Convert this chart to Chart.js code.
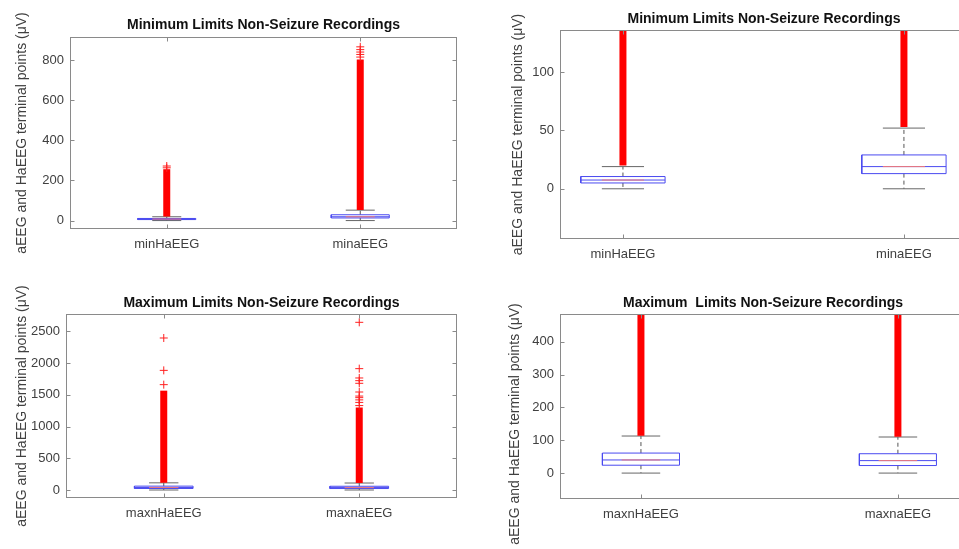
<!DOCTYPE html>
<html lang="en">
<head>
<meta charset="UTF-8">
<title>Limits Non-Seizure Recordings</title>
<script src="https://cdn.jsdelivr.net/npm/chart.js"></script>
<style>
  body { margin: 0; width: 959px; height: 549px; overflow: hidden; background: #fff; position: relative; }
  canvas { position: absolute; }
</style>
</head>
<body>
<canvas id="c1" width="480" height="275" style="left:0;top:0"></canvas>
<canvas id="c2" width="500" height="275" style="left:480px;top:0"></canvas>
<canvas id="c3" width="480" height="274" style="left:0;top:275px"></canvas>
<canvas id="c4" width="500" height="274" style="left:480px;top:275px"></canvas>
<script>
// ---- data ----
const yLabel = 'aEEG and HaEEG terminal points (μV)';

const minLabels = ['minHaEEG', 'minaEEG'];
const minQ1 = [5, 13];
const minMedian = [7.5, 19];
const minQ3 = [10.5, 29];
const minWhiskerLow = [0, 0];
const minWhiskerHigh = [19, 52];
const minBandLow = [20, 53];        // dense run of outliers (drawn as solid column)
const minBandHigh = [256, 803];
const minOutliers = [[263, 272], [815, 828, 840, 852, 866]];

const maxLabels = ['maxnHaEEG', 'maxnaEEG'];
const maxQ1 = [24, 23];
const maxMedian = [40, 38];
const maxQ3 = [61, 59];
const maxWhiskerLow = [0, 0];
const maxWhiskerHigh = [113, 110];
const maxBandLow = [114, 111];
const maxBandHigh = [1565, 1300];
const maxOutliers = [[1660, 1885, 2395], [1330, 1380, 1420, 1455, 1480, 1544, 1681, 1723, 1765, 1912, 2642]];

const yTicksMinFull = [0, 200, 400, 600, 800];
const yTicksMinZoom = [0, 50, 100];
const yTicksMaxFull = [0, 500, 1000, 1500, 2000, 2500];
const yTicksMaxZoom = [0, 100, 200, 300, 400];

// ---- styling ----
const FONT = 'Liberation Sans, Arial, Helvetica, sans-serif';
const TEXT = '#404040';
const AXIS = '#8a8a8a';
const BOX_W = 0.15;   // half width of box
const CAP_W = 0.075;  // half width of whisker cap

const minStats = { labels: minLabels, q1: minQ1, med: minMedian, q3: minQ3, lo: minWhiskerLow, hi: minWhiskerHigh, bandLo: minBandLow, bandHi: minBandHigh, out: minOutliers };
const maxStats = { labels: maxLabels, q1: maxQ1, med: maxMedian, q3: maxQ3, lo: maxWhiskerLow, hi: maxWhiskerHigh, bandLo: maxBandLow, bandHi: maxBandHigh, out: maxOutliers };

function boxDatasets(s) {
  const out = [];
  const line = (pts, color, width, dash) => out.push({
    data: pts, showLine: true, borderColor: color, borderWidth: width,
    borderDash: dash || [], pointRadius: 0, borderCapStyle: 'butt', clip: 0
  });
  s.labels.forEach((_, i) => {
    const x = i + 1;
    line([{ x, y: s.q3[i] }, { x, y: s.hi[i] }], '#555', 1, [4, 3]);
    line([{ x, y: s.q1[i] }, { x, y: s.lo[i] }], '#555', 1, [4, 3]);
    line([{ x: x - CAP_W, y: s.hi[i] }, { x: x + CAP_W, y: s.hi[i] }], '#666', 1);
    line([{ x: x - CAP_W, y: s.lo[i] }, { x: x + CAP_W, y: s.lo[i] }], '#666', 1);
    line([
      { x: x - BOX_W, y: s.q1[i] }, { x: x + BOX_W, y: s.q1[i] },
      { x: x + BOX_W, y: s.q3[i] }, { x: x - BOX_W, y: s.q3[i] }, { x: x - BOX_W, y: s.q1[i] }
    ], '#4a4af0', 1);
    line([{ x: x - BOX_W, y: s.med[i] }, { x: x + BOX_W, y: s.med[i] }], '#4a4af0', 1);
    line([{ x: x - CAP_W, y: s.med[i] }, { x: x + CAP_W, y: s.med[i] }], '#f07a7a', 1);
    line([{ x, y: s.bandLo[i] }, { x, y: s.bandHi[i] }], '#ff0000', 7);
    out.push({
      data: s.out[i].map(v => ({ x, y: v })), showLine: false,
      pointStyle: 'cross', pointRadius: 4, borderColor: '#ff2020', pointBorderWidth: 1, clip: 0
    });
  });
  return out.reverse();
}

const framePlugin = {
  id: 'frame',
  afterDraw(chart, args, opts) {
    const { ctx, chartArea: a, scales: { x, y } } = chart;
    const L = Math.round(a.left) + 0.5, R = Math.round(a.right) - 0.5;
    const T = Math.round(a.top) + 0.5, B = Math.round(a.bottom) - 0.5;
    ctx.save();
    ctx.strokeStyle = AXIS;
    ctx.lineWidth = 1;
    ctx.strokeRect(L, T, R - L, B - T);
    ctx.beginPath();
    y.ticks.forEach(t => {
      const py = Math.round(y.getPixelForValue(t.value)) + 0.5;
      ctx.moveTo(L, py); ctx.lineTo(L + 4, py);
      ctx.moveTo(R, py); ctx.lineTo(R - 4, py);
    });
    x.ticks.forEach(t => {
      const px = Math.round(x.getPixelForValue(t.value)) + 0.5;
      ctx.moveTo(px, B); ctx.lineTo(px, B - 4);
      ctx.moveTo(px, T); ctx.lineTo(px, T + 4);
    });
    ctx.stroke();
    if (opts.yTitleAt) {
      ctx.translate(opts.yTitleAt[0], opts.yTitleAt[1]);
      ctx.rotate(-Math.PI / 2);
      ctx.fillStyle = TEXT;
      ctx.font = '14px ' + FONT;
      ctx.textAlign = 'center';
      ctx.textBaseline = 'middle';
      ctx.fillText(yLabel, 0, 0);
    }
    ctx.restore();
  }
};

function makePanel(id, p) {
  const canvas = document.getElementById(id);
  new Chart(canvas, {
    type: 'scatter',
    data: { datasets: boxDatasets(p.stats) },
    plugins: [framePlugin],
    options: {
      responsive: false,
      animation: false,
      events: [],
      layout: { padding: { left: 0, top: 0, bottom: 0, right: canvas.width - p.area.r } },
      plugins: {
        legend: { display: false },
        tooltip: { enabled: false },
        title: {
          display: true, text: p.title, color: '#111', fullSize: false,
          font: { family: FONT, size: 14, weight: 'bold', lineHeight: '20px' },
          padding: { top: p.titleTop, bottom: p.area.t - p.titleTop - 20 }
        },
        frame: { yTitleAt: p.yTitleAt || null }
      },
      scales: {
        x: {
          type: 'linear', min: p.xRange[0], max: p.xRange[1],
          grid: { display: false, drawTicks: false }, border: { display: false },
          afterBuildTicks: s => { s.ticks = p.stats.labels.map((_, i) => ({ value: i + 1 })); },
          afterFit: s => { s.height = canvas.height - p.area.b; },
          ticks: {
            padding: 8, color: TEXT, font: { family: FONT, size: 13 }, maxRotation: 0,
            callback: v => p.stats.labels[v - 1]
          }
        },
        y: {
          type: 'linear', min: p.yRange[0], max: p.yRange[1],
          grid: { display: false, drawTicks: false }, border: { display: false },
          afterBuildTicks: s => { s.ticks = p.yTicks.map(v => ({ value: v })); },
          afterFit: s => { s.width = p.area.l; },
          ticks: { padding: 6, color: TEXT, font: { family: FONT, size: 13 }, callback: v => String(v) },
          title: {
            display: !p.yTitleAt, text: yLabel, color: TEXT,
            font: { family: FONT, size: 14, lineHeight: '16px' },
            padding: { top: p.yTitleX - 8, bottom: 0 }
          }
        }
      }
    }
  });
}

makePanel('c1', {
  stats: minStats, title: 'Minimum Limits Non-Seizure Recordings', yTicks: yTicksMinFull,
  area: { l: 70, r: 457, t: 37, b: 229 }, titleTop: 15,
  yRange: [-42, 915], xRange: [0.5, 2.5], yTitleX: 22
});
makePanel('c2', {
  stats: minStats, title: 'Minimum Limits Non-Seizure Recordings', yTicks: yTicksMinZoom,
  area: { l: 80, r: 488, t: 30, b: 239 }, titleTop: 9,
  yRange: [-43, 136], xRange: [0.776, 2.228], yTitleX: 38
});
makePanel('c3', {
  stats: maxStats, title: 'Maximum Limits Non-Seizure Recordings', yTicks: yTicksMaxFull,
  area: { l: 66, r: 457, t: 39, b: 223 }, titleTop: 18,
  yRange: [-126, 2773], xRange: [0.5, 2.5], yTitleX: 22
});
makePanel('c4', {
  stats: maxStats, title: 'Maximum  Limits Non-Seizure Recordings', yTicks: yTicksMaxZoom,
  area: { l: 80, r: 486, t: 39, b: 224 }, titleTop: 18,
  yRange: [-79, 485], xRange: [0.685, 2.265], yTitleAt: [35, 149]
});
</script>
</body>
</html>
